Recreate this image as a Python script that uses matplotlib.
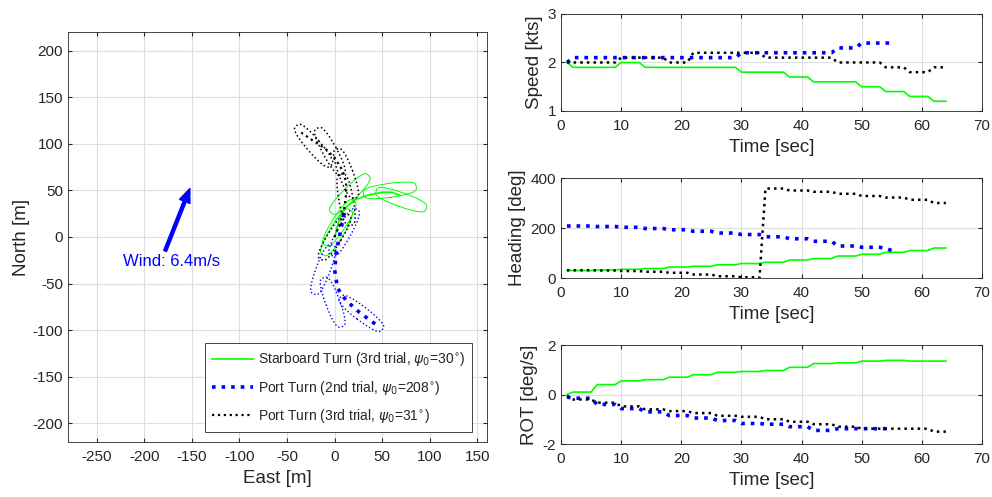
import numpy as np
import matplotlib
matplotlib.use('Agg')
import matplotlib.pyplot as plt

plt.rcParams['font.family'] = ['Liberation Sans', 'DejaVu Sans']
plt.rcParams['axes.unicode_minus'] = False

# --- time histories (1 s samples) ---
t_stbd3 = list(range(1, 65))
t_port2 = list(range(1, 56))
t_port3 = list(range(1, 65))

spd_stbd3 = [2.0, 1.9, 1.9, 1.9, 1.9, 1.9, 1.9, 1.9,
             1.9, 2.0, 2.0, 2.0, 2.0, 1.9, 1.9, 1.9,
             1.9, 1.9, 1.9, 1.9, 1.9, 1.9, 1.9, 1.9,
             1.9, 1.9, 1.9, 1.9, 1.9, 1.8, 1.8, 1.8,
             1.8, 1.8, 1.8, 1.8, 1.8, 1.7, 1.7, 1.7,
             1.7, 1.6, 1.6, 1.6, 1.6, 1.6, 1.6, 1.6,
             1.6, 1.5, 1.5, 1.5, 1.5, 1.4, 1.4, 1.4,
             1.4, 1.3, 1.3, 1.3, 1.3, 1.2, 1.2, 1.2]
spd_port2 = [2.0, 2.1, 2.1, 2.1, 2.1, 2.1, 2.1, 2.1,
             2.1, 2.1, 2.1, 2.1, 2.1, 2.1, 2.1, 2.1,
             2.1, 2.1, 2.1, 2.1, 2.1, 2.1, 2.1, 2.1,
             2.1, 2.1, 2.1, 2.1, 2.1, 2.2, 2.2, 2.2,
             2.2, 2.2, 2.2, 2.2, 2.2, 2.2, 2.2, 2.2,
             2.2, 2.2, 2.2, 2.2, 2.2, 2.3, 2.3, 2.3,
             2.3, 2.4, 2.4, 2.4, 2.4, 2.4, 2.4]
spd_port3 = [2.0, 2.0, 2.0, 2.0, 2.0, 2.0, 2.0, 2.0,
             2.0, 2.1, 2.1, 2.1, 2.1, 2.1, 2.1, 2.1,
             2.1, 2.0, 2.0, 2.0, 2.0, 2.2, 2.2, 2.2,
             2.2, 2.2, 2.2, 2.2, 2.2, 2.2, 2.2, 2.2,
             2.2, 2.1, 2.1, 2.1, 2.1, 2.1, 2.1, 2.1,
             2.1, 2.1, 2.1, 2.1, 2.1, 2.0, 2.0, 2.0,
             2.0, 2.0, 2.0, 2.0, 2.0, 1.9, 1.9, 1.9,
             1.9, 1.8, 1.8, 1.8, 1.8, 1.9, 1.9, 1.9]

hdg_stbd3 = [30, 30, 30, 30, 30, 32, 32, 32,
             32, 35, 35, 35, 35, 38, 38, 38,
             38, 44, 44, 44, 44, 47, 47, 47,
             47, 53, 53, 53, 53, 58, 58, 58,
             58, 63, 63, 63, 63, 72, 72, 72,
             72, 78, 78, 78, 78, 88, 88, 88,
             88, 95, 95, 95, 95, 103, 103, 103,
             103, 110, 110, 110, 110, 120, 120, 120]
hdg_port2 = [208, 208, 208, 208, 208, 206, 206, 206,
             206, 203, 203, 203, 203, 198, 198, 198,
             198, 193, 193, 193, 193, 187, 187, 187,
             187, 180, 180, 180, 180, 174, 174, 174,
             174, 165, 165, 165, 165, 157, 157, 157,
             157, 147, 147, 147, 147, 128, 128, 128,
             128, 123, 123, 123, 123, 118, 110]
hdg_port3 = [31, 31, 31, 31, 31, 30, 30, 30,
             30, 28, 28, 28, 28, 25, 25, 25,
             25, 21, 21, 21, 21, 14, 14, 14,
             14, 7, 7, 7, 7, 3, 3, 3,
             0, 358, 358, 358, 358, 350, 350, 350,
             350, 345, 345, 345, 345, 337, 337, 337,
             337, 328, 328, 328, 328, 322, 322, 322,
             322, 313, 313, 313, 313, 300, 300, 300]

rot_stbd3 = [0.0, 0.1, 0.1, 0.1, 0.1, 0.4, 0.4, 0.4,
             0.4, 0.55, 0.55, 0.55, 0.55, 0.6, 0.6, 0.6,
             0.6, 0.7, 0.7, 0.7, 0.7, 0.8, 0.8, 0.8,
             0.8, 0.9, 0.9, 0.9, 0.9, 0.93, 0.93, 0.93,
             0.93, 0.97, 0.97, 0.97, 0.97, 1.1, 1.1, 1.1,
             1.1, 1.25, 1.25, 1.25, 1.25, 1.28, 1.28, 1.28,
             1.28, 1.35, 1.35, 1.35, 1.35, 1.38, 1.38, 1.38,
             1.38, 1.35, 1.35, 1.35, 1.35, 1.35, 1.35, 1.35]
rot_port2 = [-0.1, -0.15, -0.15, -0.15, -0.15, -0.4, -0.4, -0.4,
             -0.4, -0.57, -0.57, -0.57, -0.57, -0.7, -0.7, -0.7,
             -0.7, -0.85, -0.85, -0.85, -0.85, -0.95, -0.95, -0.95,
             -0.95, -1.05, -1.05, -1.05, -1.05, -1.17, -1.17, -1.17,
             -1.17, -1.2, -1.2, -1.2, -1.2, -1.3, -1.3, -1.3,
             -1.3, -1.45, -1.45, -1.45, -1.45, -1.38, -1.38, -1.38,
             -1.38, -1.38, -1.38, -1.38, -1.38, -1.38, -1.38]
rot_port3 = [-0.05, -0.2, -0.2, -0.2, -0.2, -0.33, -0.33, -0.33,
             -0.33, -0.48, -0.48, -0.48, -0.48, -0.6, -0.6, -0.6,
             -0.6, -0.67, -0.67, -0.67, -0.67, -0.75, -0.75, -0.75,
             -0.75, -0.86, -0.86, -0.86, -0.86, -0.9, -0.9, -0.9,
             -0.9, -1.0, -1.0, -1.0, -1.0, -1.1, -1.1, -1.1,
             -1.1, -1.2, -1.2, -1.2, -1.2, -1.3, -1.3, -1.3,
             -1.3, -1.38, -1.38, -1.38, -1.38, -1.38, -1.38, -1.38,
             -1.38, -1.38, -1.38, -1.38, -1.38, -1.5, -1.5, -1.5]

# --- trajectories: centre track + hull snapshots (east, north, heading) ---
trk_stbd3_e = [0, 3, 6, 12, 22, 35, 50, 60, 68]
trk_stbd3_n = [0, 12, 22, 32, 40, 45, 48, 48, 45]
hull_stbd3_e = [2, 5, 16, 58, 70]
hull_stbd3_n = [5, 15, 46, 50, 40]
hull_stbd3_h = [30, 32, 44, 82, 110]

trk_port2_e = [10, 6, 2, 0, 3, 12, 25, 38, 45]
trk_port2_n = [25, 5, -15, -35, -55, -68, -80, -90, -95]
hull_port2_e = [10, -12, -2, 28]
hull_port2_n = [5, -35, -70, -82]
hull_port2_h = [208, 200, 160, 128]

trk_port3_e = [0, 6, 10, 12, 12, 8, 0, -10, -25, -35]
trk_port3_n = [0, 15, 30, 45, 60, 72, 85, 95, 105, 112]
hull_port3_e = [0, 12, 12, -5, -22]
hull_port3_n = [0, 40, 68, 92, 98]
hull_port3_h = [31, 350, 340, 332, 320]

hull_len = 56.0
hull_beam = 15.0

labels = ['Starboard Turn (3rd trial, $\\psi_0$=30$^{\\circ}$)',
          'Port Turn (2nd trial, $\\psi_0$=208$^{\\circ}$)',
          'Port Turn (3rd trial, $\\psi_0$=31$^{\\circ}$)']

c_g = '#00ff00'
c_b = '#0000ff'
c_k = '#000000'
txt = '#262626'
grid_c = '#dedede'


def hull_outline(e, n, h):
    s = np.linspace(0, 2 * np.pi, 60)
    along = hull_len / 2 * np.sin(s)
    across = hull_beam / 2 * np.sign(np.cos(s)) * np.abs(np.cos(s)) ** 0.55
    hr = np.deg2rad(h)
    x = e + along * np.sin(hr) + across * np.cos(hr)
    y = n + along * np.cos(hr) - across * np.sin(hr)
    return x, y


def style(ax):
    ax.grid(True, color=grid_c, lw=0.8)
    ax.set_axisbelow(True)
    ax.tick_params(direction='in', top=True, right=True, labelsize=11,
                   colors=txt, length=3)
    ax.tick_params(axis='x', pad=6)
    for sp in ax.spines.values():
        sp.set_color('#262626')
        sp.set_linewidth(0.6)


fig = plt.figure(figsize=(9.92, 4.97), dpi=100)

# trajectory
ax = fig.add_axes([0.0685, 0.1107, 0.4224, 0.825])
for he, hn, hh, col, ls, lw in [(hull_stbd3_e, hull_stbd3_n, hull_stbd3_h, c_g, '-', 0.7),
                                (hull_port2_e, hull_port2_n, hull_port2_h, c_b, ':', 1.0),
                                (hull_port3_e, hull_port3_n, hull_port3_h, c_k, ':', 1.1)]:
    for e, n, h in zip(he, hn, hh):
        x, y = hull_outline(e, n, h)
        ax.plot(x, y, color=col, ls=ls, lw=lw)
ax.plot(trk_stbd3_e, trk_stbd3_n, color=c_g, lw=1.2, label=labels[0])
ax.plot(trk_port2_e, trk_port2_n, color=c_b, ls=':', lw=2.6, label=labels[1])
ax.plot(trk_port3_e, trk_port3_n, color=c_k, ls=':', lw=1.6, label=labels[2])

ax.annotate('', xy=(-152, 52), xytext=(-178, -15),
            arrowprops=dict(color=c_b, width=2.2, headwidth=8, headlength=10))
ax.text(-222, -26, 'Wind: 6.4m/s', color=c_b, fontsize=12, va='center')

ax.set_xlim(-280, 160)
ax.set_ylim(-220, 220)
ax.set_xticks(range(-250, 151, 50))
ax.set_yticks(range(-200, 201, 50))
ax.set_xlabel('East [m]', fontsize=13.5, color=txt, labelpad=4)
ax.set_ylabel('North [m]', fontsize=13.5, color=txt, labelpad=2)
style(ax)
leg = ax.legend(loc='lower right', bbox_to_anchor=(0.964, 0.024), borderaxespad=0,
                fontsize=10, fancybox=False, framealpha=1, handlelength=3.0,
                labelspacing=0.75, handletextpad=0.3, borderpad=0.5)
leg.get_frame().set_edgecolor('#262626')
leg.get_frame().set_linewidth(0.6)
for tx in leg.get_texts():
    tx.set_color(txt)

# time histories
panels = [
    ([0.5655, 0.7767, 0.4244, 0.1952], spd_stbd3, spd_port2, spd_port3,
     (1, 3), [1, 2, 3], 'Speed [kts]'),
    ([0.5655, 0.4406, 0.4244, 0.2012], hdg_stbd3, hdg_port2, hdg_port3,
     (0, 400), [0, 200, 400], 'Heading [deg]'),
    ([0.5655, 0.1066, 0.4244, 0.1992], rot_stbd3, rot_port2, rot_port3,
     (-2, 2), [-2, 0, 2], 'ROT [deg/s]'),
]
for rect, g, b, k, ylim, yt, ylab in panels:
    a = fig.add_axes(rect)
    a.plot(t_stbd3, g, color=c_g, lw=1.2)
    a.plot(t_port2, b, color=c_b, ls=':', lw=2.6)
    a.plot(t_port3, k, color=c_k, ls=':', lw=1.8)
    a.set_xlim(0, 70)
    a.set_ylim(*ylim)
    a.set_xticks(range(0, 71, 10))
    a.set_yticks(yt)
    a.set_xlabel('Time [sec]', fontsize=13.5, color=txt, labelpad=4)
    a.set_ylabel(ylab, fontsize=13.5, color=txt, labelpad=3)
    style(a)

fig.savefig('out.png', dpi=100)
